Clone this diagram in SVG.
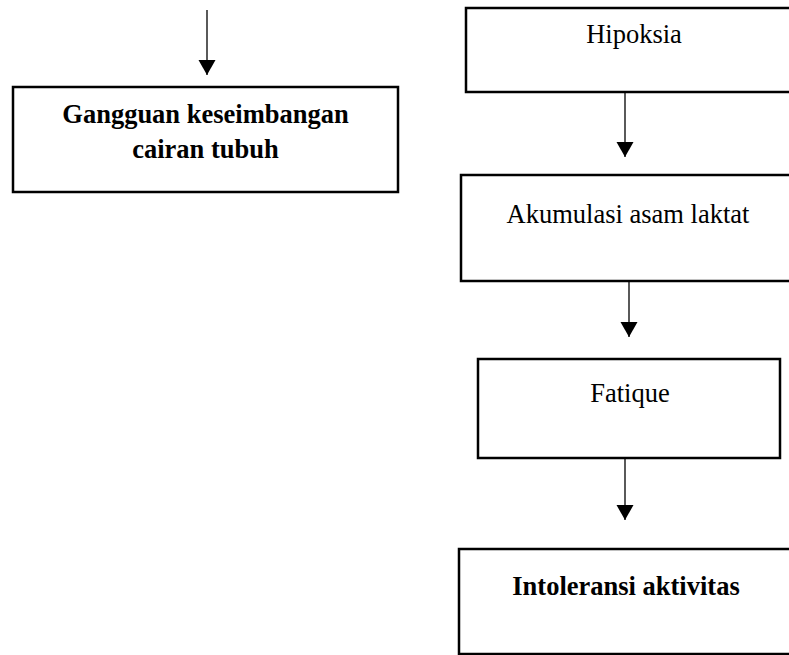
<svg xmlns="http://www.w3.org/2000/svg" width="789" height="655" viewBox="0 0 789 655">
<style>
.box{fill:#fff;stroke:#000;stroke-width:2.5}
.t{font-family:"Liberation Serif","Times New Roman",serif;font-size:26.5px;fill:#000;text-anchor:middle}
.b{font-weight:bold}
.c{stroke:#000;stroke-width:1.3;fill:none;marker-end:url(#ah)}
</style>
<defs>
<marker id="ah" markerUnits="userSpaceOnUse" markerWidth="16" markerHeight="18" refX="15" refY="8.5" orient="auto">
<path d="M0,0 L15,8.5 L0,17 z" fill="#000"/>
</marker>
</defs>
<rect width="789" height="655" fill="#fff"/>
<g id="connectors">
<line class="c" x1="207" y1="10" x2="207" y2="75"/>
<line class="c" x1="625" y1="92" x2="625" y2="157"/>
<line class="c" x1="629" y1="282" x2="629" y2="337"/>
<line class="c" x1="625" y1="458" x2="625" y2="520"/>
</g>
<g id="gangguan">
<rect class="box" x="13" y="87" width="385" height="105"/>
<text class="t b" x="205.5" y="123">Gangguan keseimbangan</text>
<text class="t b" x="205.5" y="158">cairan tubuh</text>
</g>
<g id="hipoksia">
<rect class="box" x="466" y="8" width="330" height="84"/>
<text class="t" x="634" y="43">Hipoksia</text>
</g>
<g id="akumulasi">
<rect class="box" x="461" y="175" width="335" height="106"/>
<text class="t" x="628" y="223">Akumulasi asam laktat</text>
</g>
<g id="fatique">
<rect class="box" x="478" y="359" width="302" height="99"/>
<text class="t" x="630" y="402">Fatique</text>
</g>
<g id="intoleransi">
<rect class="box" x="459" y="549" width="337" height="105"/>
<text class="t b" x="626" y="595">Intoleransi aktivitas</text>
</g>
</svg>
